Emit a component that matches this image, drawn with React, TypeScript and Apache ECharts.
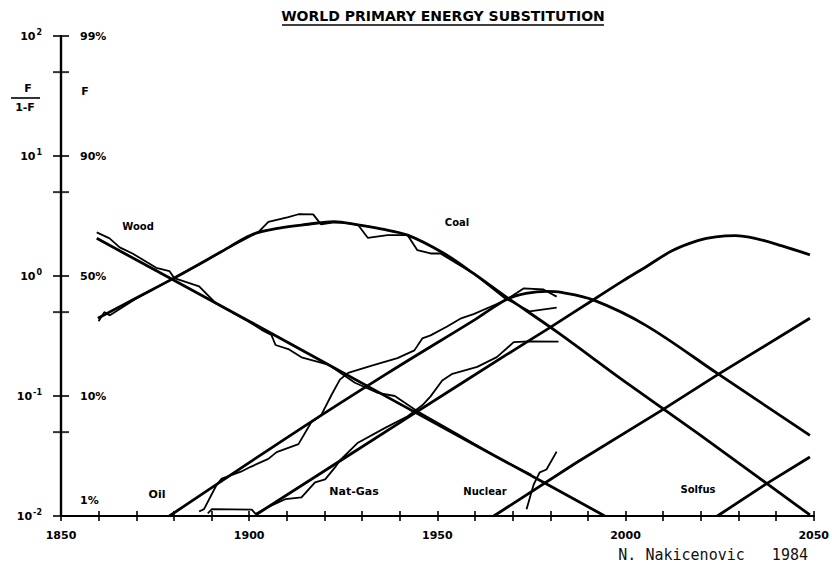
import React, { useEffect, useRef } from 'react';
import * as echarts from 'echarts';

// Axis ticks / labels
const xLabelYears = [1850, 1900, 1950, 2000, 2050];
const yExponents = [-2, -1, 0, 1, 2];
const yPercentLabels = ['1%', '10%', '50%', '90%', '99%'];
const yMinorTicks = [0.05, 0.5, 5, 50];

// Fitted logistic substitution curves: [year, F/(1-F)]
const woodFit = [[1859.5, 2.06], [1880, 0.92], [1900, 0.42], [1920, 0.19], [1940, 0.086], [1960, 0.039], [1980, 0.0178], [1994.5, 0.0100]];
const coalFit = [[1859.8, 0.444], [1870, 0.657], [1880, 0.96], [1892.7, 1.6], [1900.7, 2.21], [1908, 2.51], [1915.7, 2.7], [1922.5, 2.84], [1928.9, 2.67], [1935, 2.47], [1942.1, 2.19], [1951.8, 1.54], [1959.8, 1.04], [1967.7, 0.69], [1981.7, 0.344], [2000.1, 0.13], [2019.4, 0.0483], [2049, 0.0102]];
const oilFit = [[1878.8, 0.01], [1913.1, 0.052], [1936.8, 0.155], [1960, 0.433], [1968.5, 0.64], [1974, 0.72], [1979, 0.745], [1983, 0.73], [1991.4, 0.632], [2005.4, 0.388], [2024.7, 0.152], [2049, 0.047]];
const gasFit = [[1901.7, 0.0102], [1942.1, 0.066], [1968.5, 0.222], [1979.8, 0.37], [1992.2, 0.656], [1999.3, 0.91], [2005.4, 1.19], [2012.5, 1.63], [2019.4, 1.98], [2024, 2.12], [2029.2, 2.17], [2034.4, 2.06], [2041.6, 1.78], [2049, 1.5]];
const nuclearFit = [[1965, 0.01], [1986.9, 0.0278], [2009.9, 0.077], [2024.7, 0.152], [2049, 0.445]];
const solfusFit = [[2024.4, 0.01], [2037.6, 0.0187], [2049, 0.031]];

// Historical data: [year, F/(1-F)]
const woodData = [[1859.5, 2.31], [1862.9, 2.06], [1865.6, 1.73], [1869, 1.54], [1875.3, 1.17], [1878.8, 1.1], [1880.1, 0.96], [1886.7, 0.82], [1891.2, 0.59], [1899.9, 0.416], [1903.3, 0.356], [1905.9, 0.323], [1907, 0.266], [1910.4, 0.246], [1913.9, 0.21], [1921, 0.183], [1928.1, 0.129], [1934.2, 0.106], [1938.7, 0.1], [1944.7, 0.0745], [1955, 0.049], [1965, 0.032], [1975, 0.022]];
const coalData = [[1860, 0.42], [1861.5, 0.5], [1863, 0.47], [1870, 0.65], [1880, 0.96], [1886.7, 1.25], [1892.7, 1.6], [1899.1, 2.05], [1902.5, 2.33], [1905.1, 2.82], [1910.4, 3.1], [1913.1, 3.27], [1917, 3.26], [1919.1, 2.69], [1922.5, 2.8], [1926, 2.76], [1928.9, 2.67], [1931.5, 2.08], [1936.8, 2.19], [1942.1, 2.19], [1944.7, 1.64], [1948.2, 1.54], [1950.8, 1.54], [1959.8, 1.04], [1967.7, 0.66], [1974.5, 0.508], [1981.7, 0.546]];
const oilData = [[1886.7, 0.0109], [1888, 0.0114], [1891.4, 0.0183], [1892.7, 0.0205], [1897.8, 0.0234], [1900.4, 0.0257], [1905.1, 0.0299], [1907.3, 0.0341], [1913.1, 0.0397], [1916.5, 0.0604], [1919.1, 0.0689], [1921.8, 0.101], [1924.1, 0.137], [1926.3, 0.156], [1932.8, 0.18], [1939.4, 0.207], [1943.9, 0.24], [1946, 0.302], [1948.2, 0.32], [1952.6, 0.379], [1956.1, 0.441], [1959.8, 0.484], [1965.8, 0.584], [1968.5, 0.64], [1973, 0.79], [1978.2, 0.772], [1981.7, 0.673]];
const gasData = [[1889, 0.0105], [1890.1, 0.0114], [1900.7, 0.0113], [1901.7, 0.0104], [1905.1, 0.0119], [1909.6, 0.0138], [1913.9, 0.0143], [1917.5, 0.0191], [1920.2, 0.0202], [1922.8, 0.0254], [1924.1, 0.029], [1928.9, 0.0408], [1936, 0.054], [1942.1, 0.0679], [1946, 0.0836], [1948.2, 0.0993], [1951.3, 0.1346], [1954, 0.153], [1960.6, 0.175], [1965.8, 0.211], [1970.3, 0.281], [1974.5, 0.285], [1982.2, 0.284]];
const nuclearData = [[1973.7, 0.0114], [1975.6, 0.0183], [1977.2, 0.0231], [1979, 0.0244], [1981.7, 0.0344]];

function fitSeries(name: string, data: number[][], smooth: boolean | number) {
  return {
    name, type: 'line', data, smooth, symbol: 'none', silent: true,
    xAxisIndex: 0, yAxisIndex: 0,
    lineStyle: { color: '#000', width: 2.8 },
  };
}
function dataSeries(name: string, data: number[][]) {
  return {
    name, type: 'line', data, symbol: 'none', silent: true,
    xAxisIndex: 0, yAxisIndex: 0,
    lineStyle: { color: '#000', width: 1.8 },
  };
}
function label(text: string, x: number, y: number, font = 'bold 11px "DejaVu Sans"') {
  return { type: 'text', x, y, silent: true, style: { text, font, fill: '#000', align: 'center', verticalAlign: 'middle' } };
}

export default function App() {
  const ref = useRef<HTMLDivElement>(null);
  useEffect(() => {
    if (!ref.current) return;
    const chart = echarts.init(ref.current, undefined, { renderer: 'svg' });
    const expOf = (v: number) => Math.round(Math.log10(v));
    const baseY = {
      type: 'log', logBase: 10, min: 0.01, max: 100, position: 'left', offset: 0,
      axisLine: { show: true, onZero: false, lineStyle: { color: '#000', width: 2.2 } },
      splitLine: { show: false },
    };
    const baseX = {
      type: 'value', min: 1850, max: 2050, interval: 10, position: 'bottom', offset: 0,
      axisLine: { show: true, onZero: false, lineStyle: { color: '#000', width: 2.2 } },
      splitLine: { show: false },
    };
    chart.setOption({
      animation: false,
      backgroundColor: '#fff',
      grid: { left: 61, right: 15, top: 36, bottom: 60, containLabel: false },
      xAxis: [
        {
          ...baseX,
          axisTick: { show: true, length: 5, lineStyle: { color: '#000', width: 1.6 } },
          axisLabel: {
            show: true, margin: 14, color: '#000', fontSize: 11, fontWeight: 'bold', fontFamily: 'DejaVu Sans',
            formatter: (v: number) => (xLabelYears.includes(v) ? String(v) : ''),
          },
        },
        {
          ...baseX,
          axisTick: { show: true, inside: true, length: 5, lineStyle: { color: '#000', width: 1.6 } },
          axisLabel: { show: false },
        },
      ],
      yAxis: [
        {
          ...baseY,
          axisTick: { show: true, length: 8, lineStyle: { color: '#000', width: 1.6 } },
          axisLabel: {
            show: true, margin: 19, color: '#000',
            formatter: (v: number) => {
              const e = expOf(v);
              return yExponents.includes(e) ? `{b|10}{s|${e}}` : '';
            },
            rich: {
              b: { fontSize: 11, fontWeight: 'bold', fontFamily: 'DejaVu Sans', color: '#000' },
              s: { fontSize: 8, fontWeight: 'bold', fontFamily: 'DejaVu Sans', color: '#000', padding: [0, 0, 8, 1] },
            },
          },
        },
        {
          ...baseY,
          axisTick: { show: true, inside: true, length: 8, lineStyle: { color: '#000', width: 1.6 } },
          axisLabel: {
            show: true, inside: true, margin: 19, color: '#000',
            formatter: (v: number) => {
              const i = yExponents.indexOf(expOf(v));
              if (i < 0) return '';
              return i === 0 ? `{low|${yPercentLabels[i]}}` : `{p|${yPercentLabels[i]}}`;
            },
            rich: {
              p: { fontSize: 11, fontWeight: 'bold', fontFamily: 'DejaVu Sans', color: '#000' },
              low: { fontSize: 11, fontWeight: 'bold', fontFamily: 'DejaVu Sans', color: '#000', padding: [0, 0, 32, 0] },
            },
          },
        },
      ],
      series: [
        fitSeries('Wood', woodFit, false),
        fitSeries('Coal', coalFit, 0.35),
        fitSeries('Oil', oilFit, 0.35),
        fitSeries('Nat-Gas', gasFit, 0.35),
        fitSeries('Nuclear', nuclearFit, false),
        fitSeries('Solfus', solfusFit, false),
        dataSeries('Wood data', woodData),
        dataSeries('Coal data', coalData),
        dataSeries('Oil data', oilData),
        dataSeries('Gas data', gasData),
        dataSeries('Nuclear data', nuclearData),
        {
          name: 'minor ticks', type: 'scatter', silent: true, clip: false,
          xAxisIndex: 0, yAxisIndex: 0,
          data: yMinorTicks.map((v) => [1850, v]),
          symbol: 'rect', symbolSize: [16, 2], itemStyle: { color: '#000' },
        },
      ],
      graphic: [
        label('WORLD PRIMARY ENERGY SUBSTITUTION', 443, 16, 'bold 14px "DejaVu Sans"'),
        { type: 'line', silent: true, shape: { x1: 282, y1: 25, x2: 604, y2: 25 }, style: { stroke: '#000', lineWidth: 1.6 } },
        label('F', 28, 88),
        { type: 'line', silent: true, shape: { x1: 11, y1: 98, x2: 40, y2: 98 }, style: { stroke: '#000', lineWidth: 1.6 } },
        label('1-F', 25, 107),
        label('F', 85, 91),
        label('Wood', 138, 226, 'bold 10px "DejaVu Sans"'),
        label('Coal', 457, 222, 'bold 10px "DejaVu Sans"'),
        label('Oil', 157, 494, 'bold 11px "DejaVu Sans"'),
        label('Nat-Gas', 354, 491, 'bold 11px "DejaVu Sans"'),
        label('Nuclear', 485, 491, 'bold 10px "DejaVu Sans"'),
        label('Solfus', 698, 489, 'bold 10px "DejaVu Sans"'),
        { type: 'text', x: 808, y: 555, silent: true, style: { text: 'N. Nakicenovic   1984', font: '15px "DejaVu Sans Mono"', fill: '#111', align: 'right', verticalAlign: 'middle' } },
      ],
    });
    return () => chart.dispose();
  }, []);
  return <div ref={ref} style={{ position: 'fixed', left: 0, top: 0, width: 832, height: 576, background: '#fff' }} />;
}
